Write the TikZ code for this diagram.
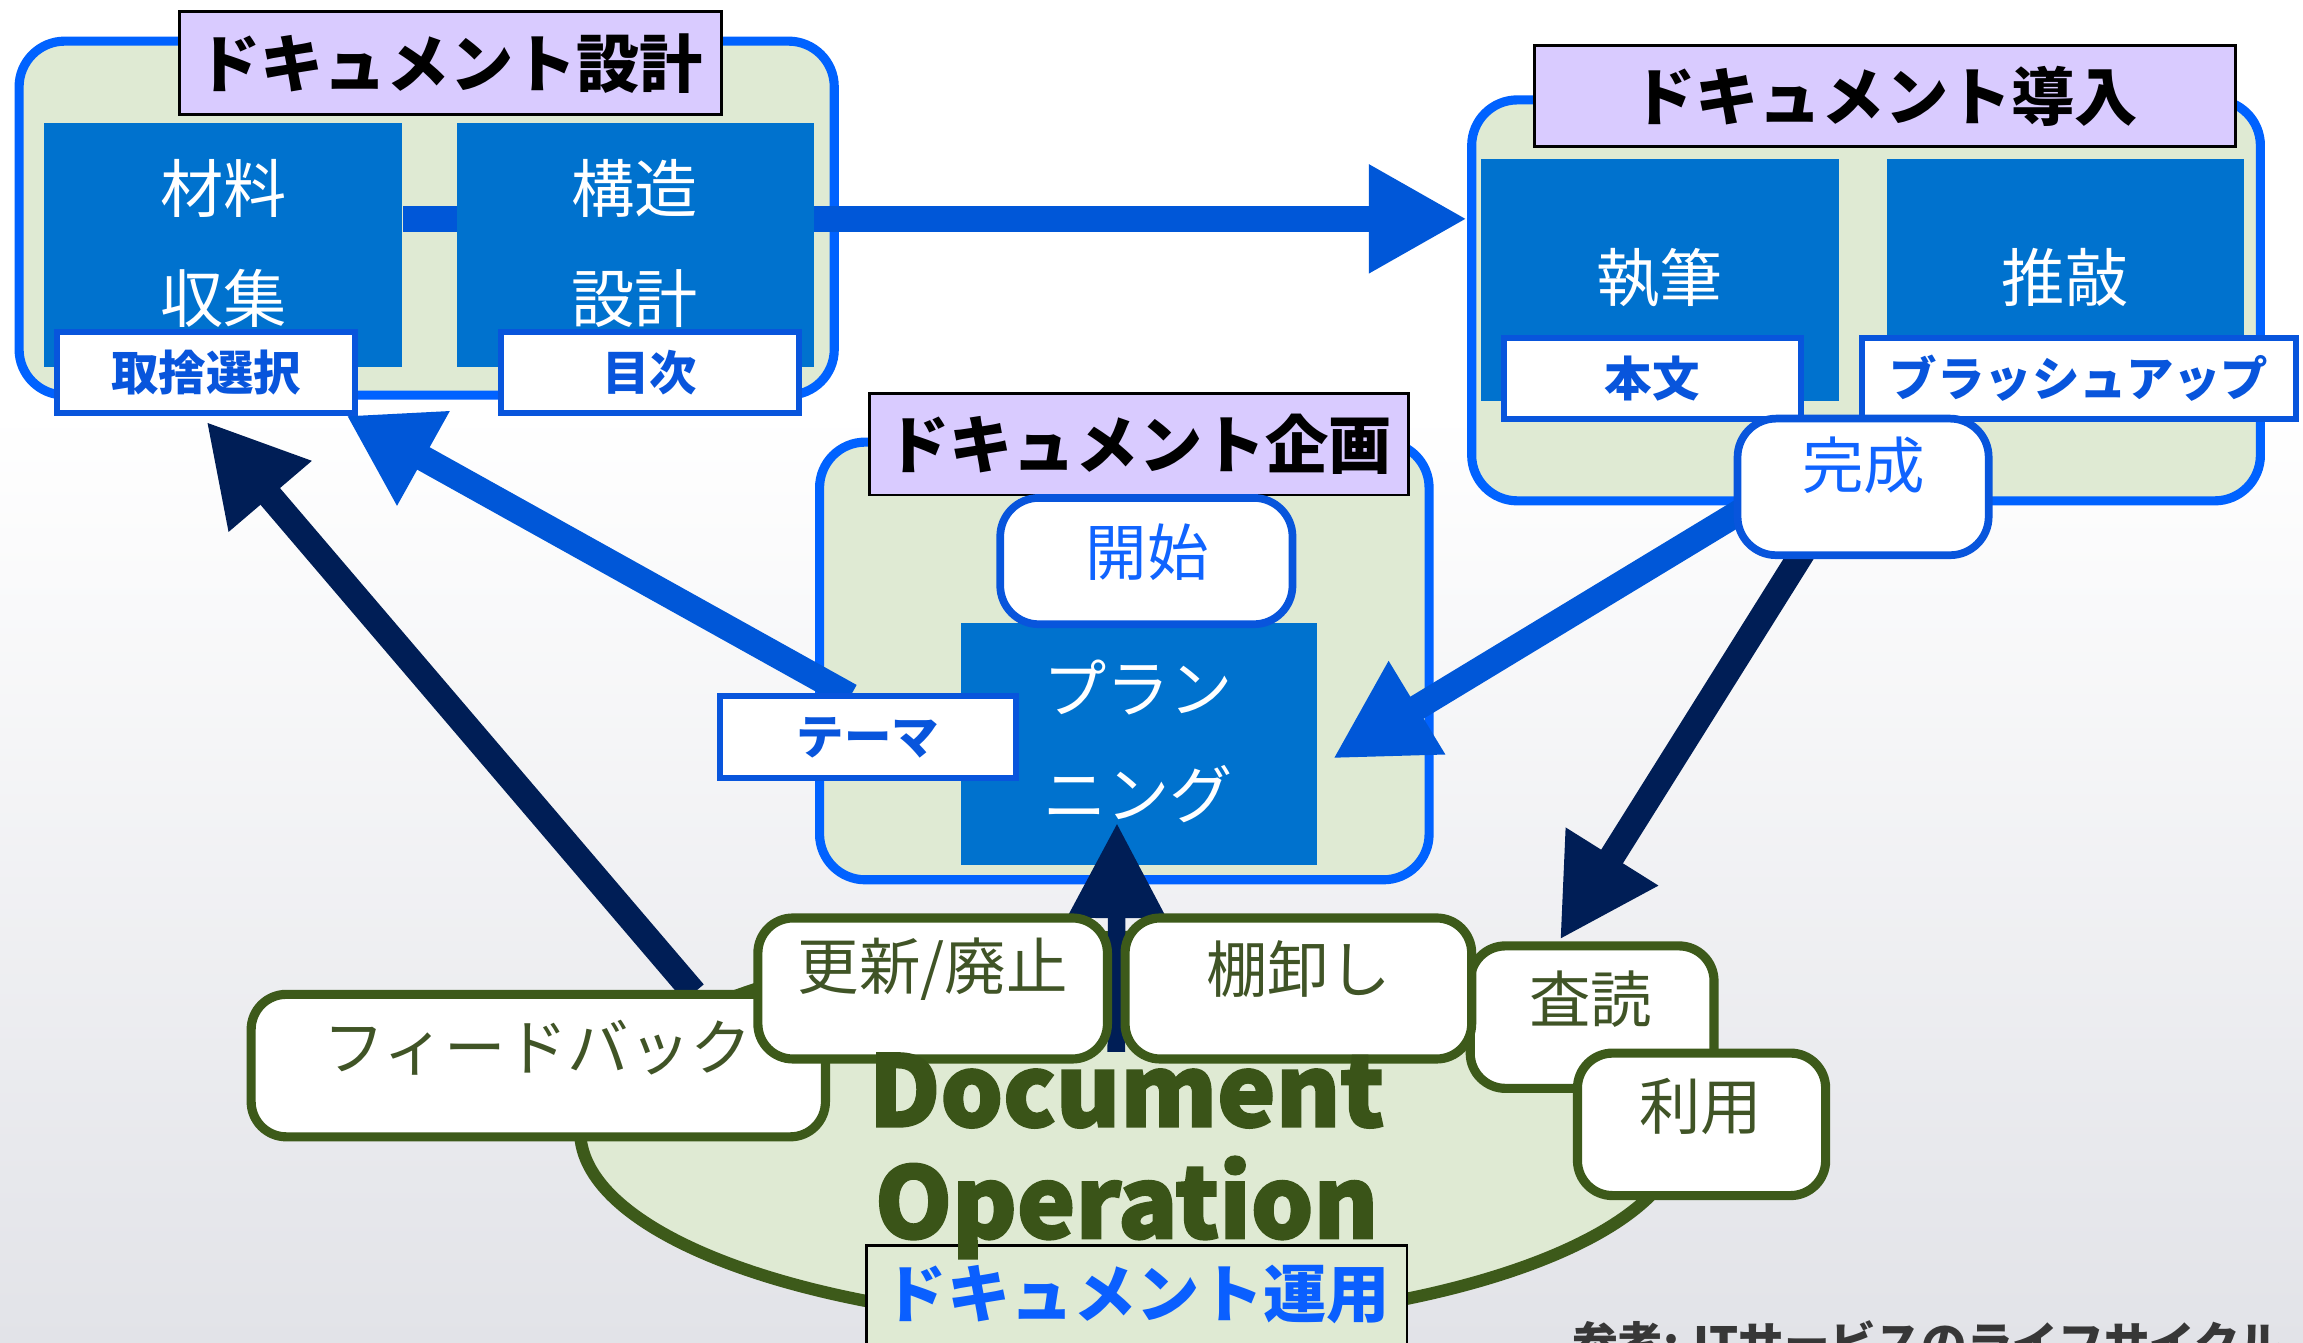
\documentclass[tikz,border=0pt]{standalone}
\usepackage{fontspec}
\setmainfont{Noto Sans CJK JP}
\newfontfamily\opfont{Noto Sans CJK JP}[FakeBold=2.2]
\usetikzlibrary{arrows.meta,fit,calc,shapes.geometric}
\definecolor{grpblue}{RGB}{0,98,255}
\definecolor{boxblue}{RGB}{0,114,206}
\definecolor{arrblue}{RGB}{0,87,216}
\definecolor{lblblue}{RGB}{8,85,220}
\definecolor{navy}{RGB}{0,30,86}
\definecolor{palegreen}{RGB}{223,234,211}
\definecolor{lavender}{RGB}{217,203,255}
\definecolor{darkgreen}{RGB}{61,90,26}
\definecolor{opgreen}{RGB}{58,84,24}
\definecolor{txtgreen}{RGB}{64,84,38}
\definecolor{startblue}{RGB}{16,100,255}
\definecolor{opblue}{RGB}{10,95,255}
\definecolor{bggray}{RGB}{226,227,232}
\definecolor{refgray}{RGB}{55,55,55}
\def\pxu{0.014688cm}
\pgfdeclarelayer{back}
\pgfdeclarelayer{grplayer}
\pgfdeclarelayer{mainarr}
\pgfdeclarelayer{boxlayer}
\pgfdeclarelayer{arrowlayer}
\pgfsetlayers{back,grplayer,mainarr,boxlayer,arrowlayer,main}
\begin{document}
\begin{tikzpicture}[x=0.014688cm,y=-0.014688cm,
  grp/.style={draw=grpblue, line width=2.6pt, fill=palegreen, rounded corners=13pt, inner sep=0pt},
  ttl/.style={draw=black, line width=0.8pt, fill=lavender, inner sep=0pt},
  ttltext/.style={font=\bfseries\fontsize{18}{20}\selectfont, text=black, inner sep=0pt},
  bbox/.style={fill=boxblue, inner sep=0pt},
  btext/.style={font=\fontsize{18}{20}\selectfont, text=white, inner sep=0pt},
  lbl/.style={draw=lblblue, line width=1.7pt, fill=white, inner sep=0pt},
  lbltext/.style={font=\bfseries\fontsize{13.5}{15}\selectfont, text=lblblue, inner sep=0pt},
  rbox/.style={draw=lblblue, line width=2.2pt, fill=white, rounded corners=11pt, inner sep=0pt},
  rtext/.style={font=\fontsize{17.5}{19}\selectfont, text=startblue, inner sep=0pt},
  gbox/.style={draw=darkgreen, line width=2.6pt, fill=white, rounded corners=10pt, inner sep=0pt},
  gtext/.style={font=\fontsize{17.5}{19}\selectfont, text=txtgreen, inner sep=0pt},
  optext/.style={font=\opfont\bfseries\fontsize{28}{30}\selectfont, text=opgreen, inner sep=0pt, anchor=base},
  blarrow/.style={draw=arrblue, line width=7.3pt, -{Triangle[length=28pt,width=29pt]}},
  nvarrow/.style={draw=navy, line width=7.3pt, -{Triangle[length=28pt,width=29pt]}},
]
\useasboundingbox (0,0) rectangle (1568,914);
\begin{pgfonlayer}{back}
\fill[white] (0,0) rectangle (1568,914);
\shade[top color=white, bottom color=bggray] (0,280) rectangle (1568,914);
\end{pgfonlayer}

% groups and titles
\begin{pgfonlayer}{grplayer}
\node[grp, fit={(13,28) (568,269)}] (design) {};
\node[ttl, fit={(122,8) (491,78)}] (designttl) {};
\node[grp, fit={(1002,68) (1539,341)}] (deploy) {};
\node[ttl, fit={(1045,31) (1522,100)}] (deployttl) {};
\node[grp, fit={(558,301) (973,599)}] (plan) {};
\node[ttl, fit={(592,268) (959,337)}] (planttl) {};
\node[ellipse, draw=darkgreen, line width=3.5pt, fill=palegreen, minimum width=750*\pxu, minimum height=264*\pxu, inner sep=0pt] (opell) at (770,770) {};
\end{pgfonlayer}

% blue boxes
\begin{pgfonlayer}{boxlayer}
\node[bbox, fit={(30,84) (274,250)}] (mat) {};
\node[bbox, fit={(311,84) (554,250)}] (struct) {};
\node[bbox, fit={(1008,108) (1252,273)}] (write) {};
\node[bbox, fit={(1285,108) (1528,273)}] (polish) {};
\node[bbox, fit={(654,424) (897,589)}] (planning) {};
\end{pgfonlayer}

% labels and small boxes
\node[lbl, fit={(39,226) (242,281)}] (sel) {};
\node[lbl, fit={(341,226) (544,281)}] (toc) {};
\node[lbl, fit={(1024,230) (1226,285)}] (body) {};
\node[lbl, fit={(1268,230) (1563,285)}] (brush) {};
\node[lbl, fit={(490,474) (692,530)}] (theme) {};
\node[rbox, fit={(1183,285) (1354,378)}] (done) {};
\node[rbox, fit={(681,339) (880,425)}] (start) {};

% operation boxes
\node[gbox, fit={(171,677) (562,774)}] (feedback) {};
\node[gbox, fit={(516,625) (754,721)}] (update) {};
\node[gbox, fit={(1001,644) (1167,741)}] (review) {};
\node[gbox, fit={(766,625) (1002,721)}] (inventory) {};
\node[gbox, fit={(1074,717) (1243,814)}] (use) {};
\node[fill=palegreen, draw=black, line width=0.8pt, inner sep=0pt, fit={(590,848) (958,940)}] (opttl) {};

% arrows
\coordinate (ay) at (0,149);
\begin{pgfonlayer}{mainarr}
\draw[blarrow, line width=7.6pt] (mat.east |- ay) -- (deploy.west |- ay);
\end{pgfonlayer}
\begin{pgfonlayer}{arrowlayer}
\draw[nvarrow] ($(feedback.north)+(106,2)$) -- ($(sel.south)+(0,4)$);
\draw[blarrow, -{Triangle[length=25pt,width=29pt]}] ($(theme.north)+(-12,2)$) -- ($(sel.south east)+(-8,0)$);
\draw[blarrow] ($(done.west)+(6,16)$) -- ($(planning.east)+(10,10)$);
\draw[nvarrow] ($(done.south)+(-39,-8)$) -- ($(review.north)+(-22,-1)$);
\draw[nvarrow, line width=5pt, -{Triangle[length=27pt,width=27pt]}] ($(update.south east)!0.5!(inventory.south west)+(0,-8)$) -- ($(planning.south)+(-15,-29)$);
\end{pgfonlayer}

% texts
\node[ttltext] (t1) at (designttl.center) {ドキュメント設計};
\node[ttltext] (t2) at (deployttl.center) {ドキュメント導入};
\node[ttltext] (t3) at (planttl.center) {ドキュメント企画};
\node[btext] (m1) at (152,128) {材料};
\node[btext] (m2) at (152,203) {収集};
\node[btext] (s1) at (432,128) {構造};
\node[btext] (s2) at (432,203) {設計};
\node[btext] (w1) at (1130,189) {執筆};
\node[btext] (p1) at (1406,189) {推敲};
\node[btext] (pl1) at (775,468) {プラン};
\node[btext] (pl2) at (775,541) {ニング};
\node[lbltext] (selt) at (sel.center) {取捨選択};
\node[lbltext] (toct) at (toc.center) {目次};
\node[lbltext] (bodyt) at (body.center) {本文};
\node[lbltext] (brusht) at (brush.center) {ブラッシュアップ};
\node[lbltext] (themet) at (theme.center) {テーマ};
\node[rtext] (donet) at (1269,317) {完成};
\node[rtext] (startt) at (781,376) {開始};
\node[gtext] (fbt) at (366,713) {フィードバック};
\node[gtext] (upt) at (635,660) {更新/廃止};
\node[gtext] (invt) at (884,660) {棚卸し};
\node[gtext] (revt) at (1083,680) {査読};
\node[gtext] (uset) at (1158,753) {利用};
\node[optext] (doc) at (767,767) {Document};
\node[optext] (oper) at (767,843) {Operation};
\node[font=\bfseries\fontsize{18}{20}\selectfont, text=opblue, inner sep=0pt] (opt) at (774,881) {ドキュメント運用};
\node[font=\bfseries\fontsize{13}{14}\selectfont, text=refgray, inner sep=0pt, anchor=base west] (ref) at (1070,926) {参考: ITサービスのライフサイクル};
\end{tikzpicture}
\end{document}
